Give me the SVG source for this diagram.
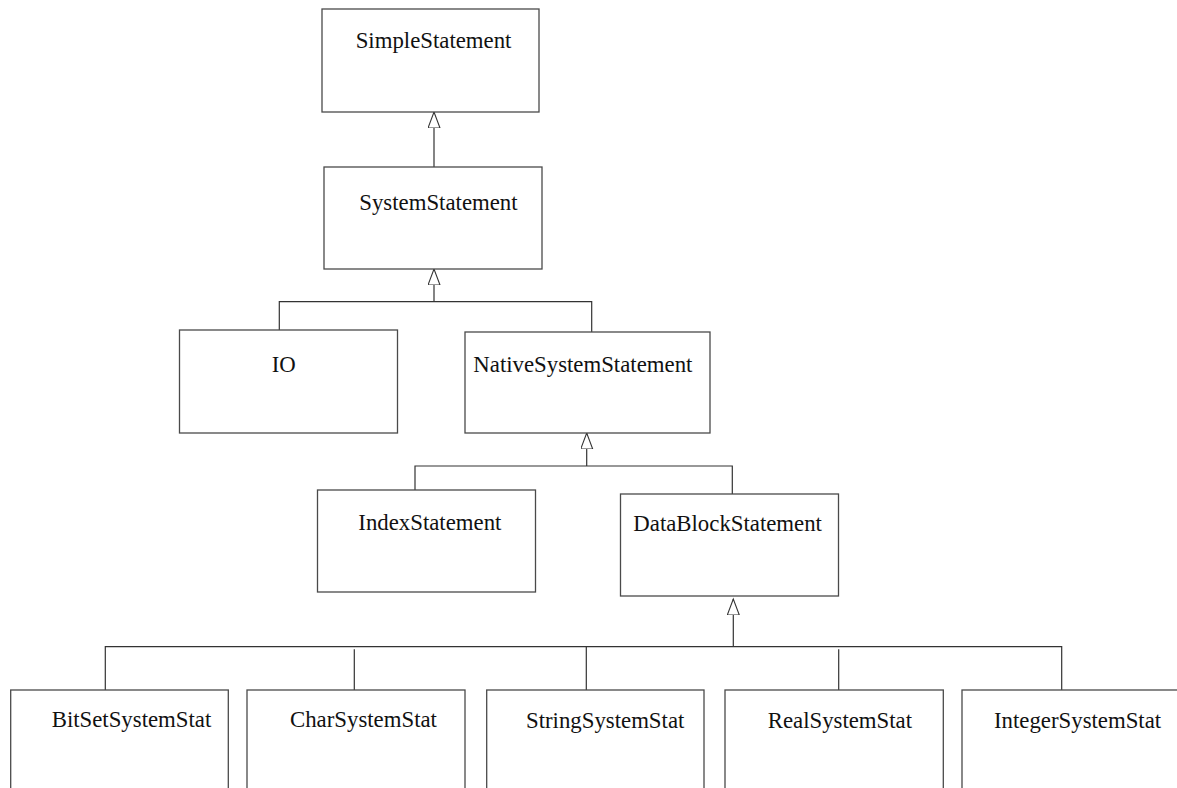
<svg xmlns="http://www.w3.org/2000/svg" width="1177" height="788" viewBox="0 0 1177 788">
<style>
  .box { fill: #ffffff; stroke: #4a4a4a; stroke-width: 1.3; }
  .lbl { font-family: "Liberation Serif", "Times New Roman", serif; font-size: 22.8px; fill: #111111; }
  .conn { fill: none; stroke: #333333; stroke-width: 1.2; }
  .gen { marker-end: url(#tri); }
</style>
<defs>
  <marker id="tri" markerUnits="userSpaceOnUse" markerWidth="18" markerHeight="14" refX="16" refY="6" orient="auto">
    <path d="M0,0 L16,6 L0,12 z" fill="#ffffff" stroke="#333333" stroke-width="1.1"/>
  </marker>
</defs>
<rect width="1177" height="788" fill="#ffffff"/>

<g id="connectors">
  <path class="conn gen" d="M434,167 L434,112"/>
  <path class="conn gen" d="M434,301.7 L434,269"/>
  <path class="conn" d="M279.3,330 L279.3,301.7 L591.7,301.7 L591.7,332"/>
  <path class="conn gen" d="M586.7,466 L586.7,433"/>
  <path class="conn" d="M415,490 L415,466 L732.3,466 L732.3,494"/>
  <path class="conn gen" d="M733.3,646.7 L733.3,599"/>
  <path class="conn" d="M105.3,690 L105.3,646.7 L1061.7,646.7 L1061.7,690"/>
  <path class="conn" d="M354.3,649.3 L354.3,690"/>
  <path class="conn" d="M586.3,646.7 L586.3,690"/>
  <path class="conn" d="M838.7,649.3 L838.7,690"/>
</g>

<g id="SimpleStatement">
  <rect class="box" x="322" y="9" width="217" height="103"/>
  <text class="lbl" x="355.7" y="48.3">SimpleStatement</text>
</g>
<g id="SystemStatement">
  <rect class="box" x="324" y="167" width="218" height="102"/>
  <text class="lbl" x="359.3" y="210">SystemStatement</text>
</g>
<g id="IO">
  <rect class="box" x="179.5" y="330" width="218" height="103"/>
  <text class="lbl" x="271.7" y="371.7">IO</text>
</g>
<g id="NativeSystemStatement">
  <rect class="box" x="465" y="332" width="245" height="101"/>
  <text class="lbl" x="473.3" y="371.7">NativeSystemStatement</text>
</g>
<g id="IndexStatement">
  <rect class="box" x="317.5" y="490" width="218" height="102"/>
  <text class="lbl" x="358.3" y="530">IndexStatement</text>
</g>
<g id="DataBlockStatement">
  <rect class="box" x="620.5" y="494" width="218" height="102"/>
  <text class="lbl" x="633.3" y="531">DataBlockStatement</text>
</g>
<g id="BitSetSystemStat">
  <rect class="box" x="10.7" y="690" width="217.6" height="102"/>
  <text class="lbl" x="51.7" y="726.7">BitSetSystemStat</text>
</g>
<g id="CharSystemStat">
  <rect class="box" x="247" y="690" width="218" height="102"/>
  <text class="lbl" x="290" y="726.7">CharSystemStat</text>
</g>
<g id="StringSystemStat">
  <rect class="box" x="486.7" y="690" width="217.3" height="102"/>
  <text class="lbl" x="526" y="728.3">StringSystemStat</text>
</g>
<g id="RealSystemStat">
  <rect class="box" x="725" y="690" width="218.3" height="102"/>
  <text class="lbl" x="767.7" y="727.5">RealSystemStat</text>
</g>
<g id="IntegerSystemStat">
  <rect class="box" x="962" y="690" width="218" height="102"/>
  <text class="lbl" x="994" y="728.3">IntegerSystemStat</text>
</g>
</svg>
